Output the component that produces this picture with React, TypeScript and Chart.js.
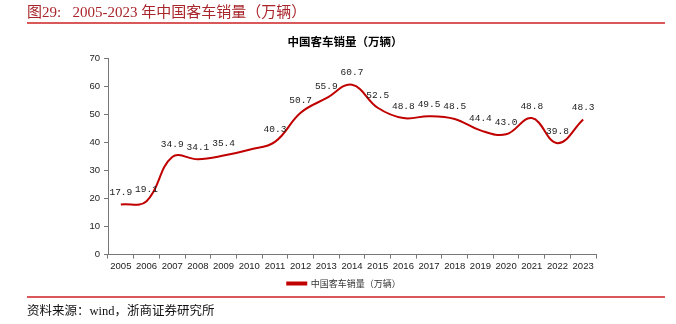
import React, { useEffect, useRef } from "react";
import { Chart, registerables } from "chart.js";

Chart.register(...registerables);

const years = ["2005","2006","2007","2008","2009","2010","2011","2012","2013","2014","2015","2016","2017","2018","2019","2020","2021","2022","2023"];
const sales = [17.9, 19.1, 34.9, 34.1, 35.4, 37.5, 40.3, 50.7, 55.9, 60.7, 52.5, 48.8, 49.5, 48.5, 44.4, 43.0, 48.8, 39.8, 48.3];
const labeled = [true, true, true, true, true, false, true, true, true, true, true, true, true, true, true, true, true, true, true];
const seriesName = "中国客车销量（万辆）";
const chartTitle = "中国客车销量（万辆）";
const headerText = "图29:\u00a0\u00a0\u00a02005-2023 年中国客车销量（万辆）";
const sourceText = "资料来源：wind，浙商证券研究所";

const LINE_RED = "#c00000";

const valueLabels = {
  id: "valueLabels",
  afterDatasetsDraw(chart: any) {
    const ctx = chart.ctx;
    const meta = chart.getDatasetMeta(0);
    ctx.save();
    ctx.font = "9.5px 'Liberation Mono', 'DejaVu Sans Mono', monospace";
    ctx.fillStyle = "#222";
    ctx.textAlign = "center";
    ctx.textBaseline = "middle";
    meta.data.forEach((pt: any, i: number) => {
      if (!labeled[i]) return;
      ctx.fillText(sales[i].toFixed(1), pt.x, pt.y - 12);
    });
    ctx.restore();
  },
};

const boxShift = {
  id: "boxShift",
  afterLayout(chart: any) {
    const lg = chart.legend;
    if (lg) {
      lg.left += 7;
      lg.right += 7;
    }
    const tb = chart.titleBlock;
    if (tb) {
      tb.left += 8;
      tb.right += 8;
    }
  },
};

export default function App() {
  const ref = useRef<HTMLCanvasElement | null>(null);
  useEffect(() => {
    if (!ref.current) return;
    const chart = new Chart(ref.current, {
      type: "line",
      data: {
        labels: years,
        datasets: [
          {
            label: seriesName,
            data: sales,
            borderColor: LINE_RED,
            backgroundColor: LINE_RED,
            borderWidth: 2,
            tension: 0.4,
            pointRadius: 0,
            fill: false,
          },
        ],
      },
      options: {
        responsive: false,
        animation: false,
        devicePixelRatio: 1,
        layout: { padding: { top: 35, bottom: 26, left: 78, right: 80 } },
        plugins: {
          title: {
            display: true,
            text: chartTitle,
            color: "#000",
            font: { size: 11.5, weight: "bold", family: "'Noto Sans CJK SC', sans-serif" },
            padding: { top: 0, bottom: 10 },
          },
          legend: {
            display: true,
            position: "bottom",
            labels: {
              boxWidth: 19,
              boxHeight: 2,
              padding: 5,
              color: "#333",
              font: { size: 9, family: "'Noto Sans CJK SC', sans-serif" },
            },
          },
          tooltip: { enabled: false },
        },
        scales: {
          x: {
            offset: true,
            grid: {
              offset: true,
              drawOnChartArea: false,
              drawTicks: true,
              tickLength: 4,
              color: "#777",
            },
            border: { display: true, color: "#777", width: 1 },
            ticks: {
              color: "#222",
              font: { size: 9.5, family: "'Liberation Sans', Arial, sans-serif" },
              padding: 2,
              maxRotation: 0,
              autoSkip: false,
            },
          },
          y: {
            min: 0,
            max: 70,
            afterFit(scale: any) {
              scale.width = 30;
            },
            grid: {
              drawOnChartArea: false,
              drawTicks: true,
              tickLength: 4,
              color: "#777",
            },
            border: { display: true, color: "#777", width: 1 },
            ticks: {
              stepSize: 10,
              color: "#222",
              padding: 4,
              font: { size: 9.5, family: "'Liberation Sans', Arial, sans-serif" },
            },
          },
        },
      },
      plugins: [valueLabels, boxShift],
    });
    return () => chart.destroy();
  }, []);

  return (
    <div style={{ position: "fixed", left: 0, top: 0, width: 676, height: 324, background: "#fff" }}>
      <canvas ref={ref} width={676} height={324} style={{ position: "absolute", left: 0, top: 0, width: 676, height: 324 }} />
      <div
        style={{
          position: "absolute",
          left: 27,
          top: 3,
          fontFamily: "'Liberation Serif', 'Noto Sans CJK SC', serif",
          fontSize: 15,
          color: "#a8252b",
          whiteSpace: "nowrap",
          lineHeight: "18px",
        }}
      >
        {headerText}
      </div>
      <div style={{ position: "absolute", left: 27, top: 22, width: 638, height: 2, background: "#d9595b" }} />
      <div style={{ position: "absolute", left: 27, top: 296, width: 638, height: 1.5, background: "#d9595b" }} />
      <div
        style={{
          position: "absolute",
          left: 27,
          top: 302,
          fontFamily: "'Liberation Serif', 'Noto Sans CJK SC', serif",
          fontSize: 12.5,
          color: "#111",
          whiteSpace: "nowrap",
          lineHeight: "18px",
        }}
      >
        {sourceText}
      </div>
    </div>
  );
}
